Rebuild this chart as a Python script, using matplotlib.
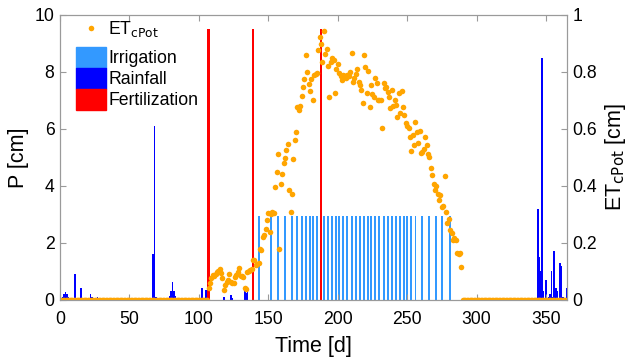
import matplotlib.pyplot as plt
import numpy as np
from matplotlib.patches import Patch
from matplotlib.lines import Line2D

plt.rcParams['font.family'] = ['Liberation Sans', 'DejaVu Sans']

# Rainfall [cm] per day
rain_day = [2, 3, 4, 5, 6, 11, 15, 22, 23, 27, 36, 67, 68, 69, 79, 80, 81, 82, 83,
            102, 105, 118, 123, 124, 133, 134, 135, 305,
            344, 345, 346, 347, 348, 350, 352, 353, 354, 355, 356, 357, 358,
            360, 361, 362, 365]
rain_val = [0.1, 0.2, 0.29, 0.2, 0.1, 0.9, 0.41, 0.2, 0.1, 0.1, 0.07, 1.6, 6.1, 0.1,
            0.12, 0.3, 0.62, 0.3, 0.12, 0.42, 0.36, 0.1, 0.18, 0.08, 0.35, 0.25, 0.38, 0.05,
            3.2, 1.5, 1.0, 8.5, 0.3, 0.7, 0.1, 0.22, 1.0, 0.1, 1.7, 0.4, 0.3,
            1.3, 1.2, 0.1, 0.4]

# Irrigation events [cm]
irr_day = [143, 152, 157, 162, 167, 171, 174, 177, 180, 182, 185, 190, 193, 196,
           199, 201, 204, 207, 210, 213, 216, 219, 222, 224, 227, 230, 233, 236,
           239, 242, 245, 248, 250, 253, 256, 261, 266, 271, 275, 281]
irr_amount = 2.95

# Fertilization events
fert_day = [107, 139, 188]
fert_height = 9.5

# Potential crop ET [cm], daily, season days 107-289 (zero outside)
et_start = 107
et_season = [0.041, 0.06, 0.076, 0.088, 0.085, 0.091, 0.097, 0.10, 0.108, 0.094,
             0.076, 0.035, 0.053, 0.064, 0.07, 0.091, 0.062, 0.058, 0.06, 0.08,
             0.088, 0.099, 0.111, 0.084, 0.085, 0.08, 0.041, 0.037, 0.099, 0.103,
             0.104, 0.11, 0.14, 0.14, 0.123, 0.125, 0.129, 0.178, 0.175, 0.222,
             0.228, 0.248, 0.281, 0.304, 0.24, 0.30, 0.308, 0.305, 0.395, 0.45,
             0.512, 0.179, 0.407, 0.443, 0.48, 0.497, 0.527, 0.547, 0.386, 0.308,
             0.371, 0.494, 0.561, 0.588, 0.678, 0.667, 0.682, 0.717, 0.748, 0.775,
             0.86, 0.799, 0.758, 0.734, 0.775, 0.702, 0.789, 0.793, 0.795, 0.877,
             0.924, 0.897, 0.834, 0.945, 0.862, 0.881, 0.822, 0.713, 0.836, 0.85,
             0.842, 0.725, 0.81, 0.827, 0.795, 0.785, 0.772, 0.788, 0.785, 0.78,
             0.79, 0.785, 0.801, 0.868, 0.766, 0.78, 0.793, 0.809, 0.766, 0.754,
             0.737, 0.69, 0.86, 0.819, 0.725, 0.805, 0.676, 0.754, 0.723, 0.713,
             0.778, 0.76, 0.70, 0.702, 0.702, 0.602, 0.763, 0.743, 0.746, 0.731,
             0.711, 0.672, 0.737, 0.681, 0.70, 0.684, 0.641, 0.725, 0.657, 0.734,
             0.676, 0.649, 0.622, 0.611, 0.602, 0.573, 0.524, 0.579, 0.544, 0.626,
             0.591, 0.55, 0.593, 0.517, 0.52, 0.53, 0.573, 0.545, 0.511, 0.50,
             0.462, 0.44, 0.407, 0.386, 0.398, 0.37, 0.351, 0.368, 0.327, 0.33,
             0.435, 0.31, 0.269, 0.283, 0.246, 0.234, 0.211, 0.216, 0.21, 0.164,
             0.161, 0.165, 0.117]

et_day = np.arange(0, 366)
et_val = np.zeros(len(et_day))
et_val[et_start:et_start + len(et_season)] = et_season

c_irr = '#3399FF'
c_rain = '#0000FF'
c_fert = '#FF0000'
c_et = '#FFA500'
c_axis = '#9A9A9A'

fig = plt.figure(figsize=(6.36, 3.57), dpi=100)
ax = fig.add_axes([0.0943, 0.16, 0.797, 0.798])

ax.bar(irr_day, [irr_amount] * len(irr_day), width=1.4, color=c_irr, linewidth=0)
ax.bar(rain_day, rain_val, width=1.3, color=c_rain, linewidth=0)
ax.bar(fert_day, [fert_height] * len(fert_day), width=2.0, color=c_fert, linewidth=0)

ax.set_xlim(0, 365)
ax.set_ylim(0, 10)
ax.set_xticks(range(0, 351, 50))
ax.set_yticks(range(0, 11, 2))
ax.set_xlabel('Time [d]', fontsize=15.5, labelpad=6)
ax.set_ylabel('P [cm]', fontsize=15.5, labelpad=4)

ax2 = ax.twinx()
ax2.plot(et_day, et_val, 'o', color=c_et, ms=4, mew=0)
ax2.set_ylim(0, 1)
ax2.set_yticks([0, 0.2, 0.4, 0.6, 0.8, 1])
ax2.set_yticklabels(['0', '0.2', '0.4', '0.6', '0.8', '1'])
ax2.set_ylabel('ET$_{\\mathrm{cPot}}$ [cm]', fontsize=15.5, labelpad=4)

for a in (ax, ax2):
    for s in a.spines.values():
        s.set_color(c_axis)
    a.tick_params(direction='in', length=4, color=c_axis, labelsize=12.7, pad=4)
ax.tick_params(axis='x', top=True, pad=8)

# legend: ET marker on its own row, then contiguous colour patches
leg_et = ax2.legend([Line2D([], [], marker='o', ls='', color=c_et, ms=4, mew=0)],
                    ['ET$_{\\mathrm{cPot}}$'], loc='upper left',
                    bbox_to_anchor=(0.031, 0.985), frameon=False, fontsize=12.7,
                    handlelength=1.7, handletextpad=0.15, borderpad=0, borderaxespad=0)
ax2.add_artist(leg_et)
ax2.legend([Patch(color=c_irr), Patch(color=c_rain), Patch(color=c_fert)],
           ['Irrigation', 'Rainfall', 'Fertilization'], loc='upper left',
           bbox_to_anchor=(0.031, 0.888), frameon=False, fontsize=12.7,
           handlelength=1.7, handleheight=1.45, labelspacing=0,
           handletextpad=0.15, borderpad=0, borderaxespad=0)

fig.savefig('out.png', dpi=100)
